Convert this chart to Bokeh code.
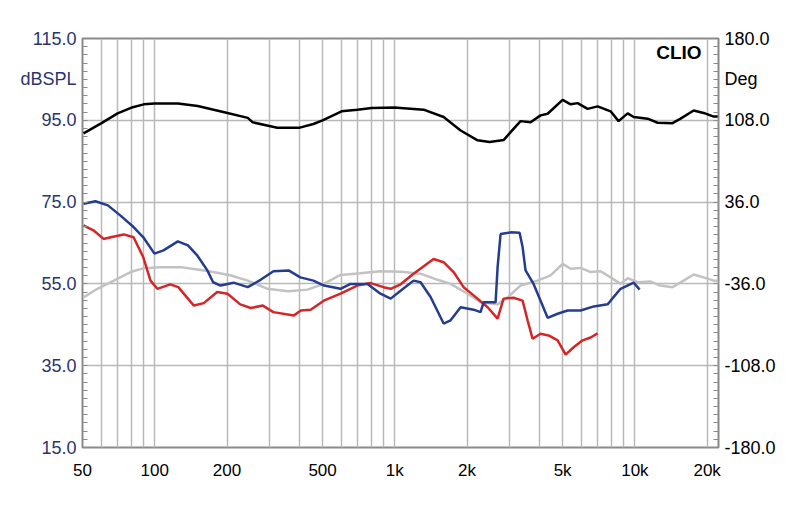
from bokeh.plotting import figure
from bokeh.models import (Range1d, LinearAxis, FixedTicker, CustomJSTickFormatter, Label)
from bokeh.embed import file_html
from bokeh.resources import INLINE

# ---------------- data ----------------
black_f = [50.5, 60, 70, 81, 90, 100, 125, 151, 201, 244, 256, 300, 324, 402, 458, 500,
           600, 698, 801, 1000, 1057, 1318, 1597, 1880, 2212, 2480, 2845, 3036, 3340,
           3677, 4047, 4330, 5000, 5400, 5774, 6355, 6994, 7924, 8551, 9330, 9884,
           11300, 12440, 14350, 15500, 17580, 19340, 21290, 22130]
black_db = [91.8, 94.3, 96.7, 98.2, 98.9, 99.1, 99.1, 98.5, 96.8, 95.6, 94.5, 93.6, 93.2,
            93.2, 94.1, 95.0, 97.2, 97.6, 98.0, 98.1, 98.0, 97.6, 95.8, 92.5, 90.1, 89.7,
            90.2, 92.1, 94.8, 94.5, 96.2, 96.6, 100.0, 98.9, 99.2, 97.8, 98.4, 97.2, 94.8,
            96.7, 95.8, 95.4, 94.4, 94.3, 95.4, 97.4, 96.8, 95.9, 95.9]

blue_f = [50.5, 56.6, 63.8, 72, 81.6, 89.6, 99.7, 108.7, 124.8, 137.5, 150.6, 165.6, 175,
          188, 213, 244, 276, 312, 361, 404, 458, 507, 594, 654, 770, 871, 961, 1057,
          1197, 1280, 1409, 1597, 1707, 1880, 2129, 2276, 2343, 2629, 2680, 2758, 3036,
          3309, 3406, 3504, 3784, 4047, 4330, 4766, 5247, 5943, 6744, 7700, 7924, 8717,
          9884, 10470]
blue_db = [74.6, 75.2, 74.2, 71.7, 68.9, 66.4, 62.4, 63.2, 65.4, 64.4, 61.9, 58.3, 55.4,
           54.6, 55.3, 54.2, 56.0, 58.1, 58.3, 56.6, 55.8, 54.6, 53.8, 55.0, 55.0, 52.6,
           51.4, 53.3, 55.8, 55.4, 51.8, 45.3, 46.1, 49.3, 48.7, 48.1, 50.5, 50.5, 59.1,
           67.2, 67.6, 67.5, 64.0, 58.3, 55.0, 50.9, 46.7, 47.7, 48.5, 48.5, 49.5, 50.0,
           50.9, 53.8, 55.3, 53.6]

red_f = [50.5, 55.5, 61.2, 65.6, 74.3, 81.6, 89.6, 96, 102.5, 116, 125.3, 145.5, 160, 182,
         201, 227, 251, 282, 312, 380, 406, 446, 506, 594, 698, 793, 897, 961, 1057, 1197,
         1450, 1597, 1757, 1934, 2129, 2435, 2680, 2838, 3124, 3406, 3573, 3749, 4047,
         4370, 4766, 5147, 5558, 6058, 6543, 6994]
red_db = [69.3, 68.1, 66.0, 66.4, 67.1, 66.4, 61.5, 55.8, 53.8, 54.9, 54.2, 49.7, 50.3,
          53.0, 52.6, 50.0, 49.1, 49.7, 48.1, 47.3, 48.5, 48.7, 50.9, 52.6, 54.6, 55.2,
          54.2, 53.8, 54.9, 57.5, 61.1, 60.3, 57.9, 54.2, 52.2, 49.3, 46.5, 51.4, 51.6,
          50.9, 46.1, 41.6, 42.8, 42.4, 41.2, 37.7, 39.5, 41.2, 41.9, 42.9]

gray_f = [50.5, 57.7, 67.5, 79.3, 89.6, 106, 128, 150.6, 175, 206, 244, 295, 358, 433, 506,
          594, 719, 871, 1057, 1280, 1507, 1707, 2009, 2276, 2680, 2951, 3340, 3933, 4456,
          5000, 5400, 5943, 6543, 7197, 7924, 8717, 9330, 10270, 11580, 12760, 14350,
          15950, 17580, 19340, 21290, 22130]
gray_db = [51.7, 53.8, 55.8, 57.9, 58.8, 59.1, 59.1, 58.5, 57.9, 57.1, 55.8, 53.8, 53.2,
           53.6, 55.0, 57.2, 57.6, 58.1, 58.0, 57.5, 56.0, 55.0, 52.6, 50.5, 50.0, 51.7,
           54.6, 55.8, 57.1, 59.9, 58.7, 58.9, 57.9, 58.1, 56.6, 55.0, 56.4, 55.4, 55.6,
           54.6, 54.2, 55.8, 57.3, 56.6, 55.8, 55.8]

x_grid = [50, 60, 70, 80, 90, 100, 200, 300, 400, 500, 600, 700, 800, 900, 1000, 2000,
          3000, 4000, 5000, 6000, 7000, 8000, 9000, 10000, 20000]
x_label_vals = [50, 100, 200, 500, 1000, 2000, 5000, 10000, 20000]
x_label_txt = ["50", "100", "200", "500", "1k", "2k", "5k", "10k", "20k"]

left_ticks = [15, 35, 55, 75, 95, 115]
right_ticks = [-180, -108, -36, 36, 108, 180]
left_title, left_title_pos = "dBSPL", 105.2
right_title, right_title_pos = "Deg", 144.7

# ---------------- styling ----------------
FONT = "Liberation Sans"
NAVY = "#2a3470"
GRID = "#b8b8b8"
FRAME = "#8a8a8a"

p = figure(width=792, height=498, x_axis_type="log", output_backend="svg",
           toolbar_location=None, x_range=Range1d(50, 22300), y_range=Range1d(15, 115),
           min_border_left=82, min_border_right=74, min_border_top=38,
           min_border_bottom=51, background_fill_color="white",
           border_fill_color="white")
p.extra_y_ranges = {"deg": Range1d(-180, 180)}
p.outline_line_color = FRAME
p.outline_line_width = 2

# x axis
xa = p.xaxis[0]
xa.ticker = FixedTicker(ticks=x_grid, minor_ticks=[])
xa.formatter = CustomJSTickFormatter(args=dict(vals=x_label_vals, txt=x_label_txt), code="""
    for (let i = 0; i < vals.length; i++) {
        if (Math.abs(tick - vals[i]) < 1e-6 * vals[i]) return txt[i];
    }
    return "";
""")
xa.axis_line_color = None
xa.major_tick_line_color = None
xa.minor_tick_line_color = None
xa.major_label_text_font = FONT
xa.major_label_text_font_size = "17px"
xa.major_label_text_color = "black"
xa.major_label_standoff = 7

label_code = """
    if (Math.abs(tick - tpos) < 0.01) return title;
    return tick.toFixed(1);
"""

# left axis (title rendered as an extra tick label at the top)
ya = p.yaxis[0]
ya.ticker = FixedTicker(ticks=left_ticks + [left_title_pos],
                        minor_ticks=[15 + 2 * i for i in range(51)])
ya.formatter = CustomJSTickFormatter(args=dict(tpos=left_title_pos, title=left_title),
                                     code=label_code)
ya.axis_line_color = None
ya.major_tick_line_color = None
ya.minor_tick_in = 5
ya.minor_tick_out = 0
ya.minor_tick_line_color = FRAME
ya.major_label_text_font = FONT
ya.major_label_text_font_size = "18px"
ya.major_label_text_color = NAVY
ya.major_label_standoff = 0

# right axis
ra = LinearAxis(y_range_name="deg")
ra.ticker = FixedTicker(ticks=right_ticks + [right_title_pos],
                        minor_ticks=[-180 + 7.2 * i for i in range(51)])
ra.formatter = CustomJSTickFormatter(args=dict(tpos=right_title_pos, title=right_title),
                                     code=label_code)
ra.axis_line_color = None
ra.major_tick_line_color = None
ra.minor_tick_in = 5
ra.minor_tick_out = 0
ra.minor_tick_line_color = FRAME
ra.major_label_text_font = FONT
ra.major_label_text_font_size = "18px"
ra.major_label_text_color = "black"
ra.major_label_standoff = 0
p.add_layout(ra, "right")

p.xgrid.grid_line_color = GRID
p.xgrid.grid_line_width = 1.5
p.ygrid.ticker = FixedTicker(ticks=left_ticks)
p.ygrid.grid_line_color = GRID
p.ygrid.grid_line_width = 1.5

# curves
p.line(gray_f, gray_db, line_color="#c2c2c2", line_width=2.5)
p.line(red_f, red_db, line_color="#d42626", line_width=2.5)
p.line(blue_f, blue_db, line_color="#243d8e", line_width=2.5)
p.line(black_f, black_db, line_color="black", line_width=2.5)

p.add_layout(Label(x=18970, y=111.6, text="CLIO", text_align="right",
                   text_baseline="middle", text_font=FONT, text_font_size="19px",
                   text_font_style="bold", text_color="black"))

open("out.html", "w").write(file_html(p, INLINE))
